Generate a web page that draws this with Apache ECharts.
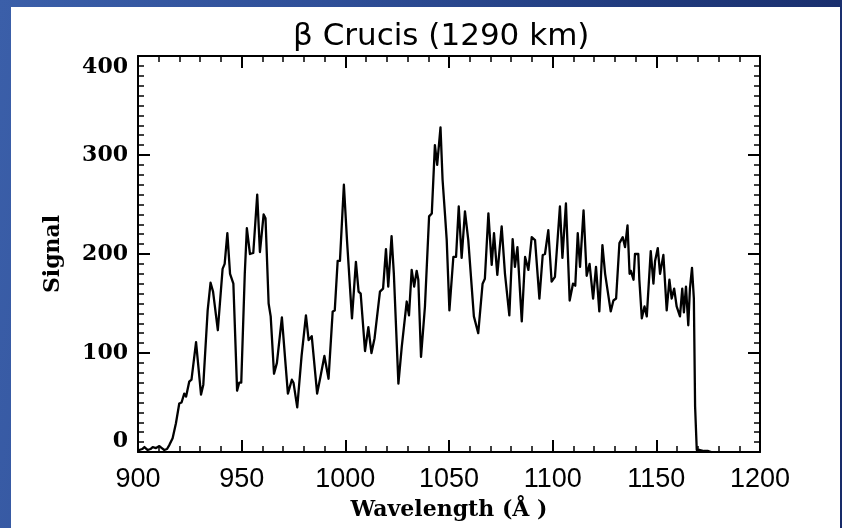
<!DOCTYPE html>
<html>
<head>
<meta charset="utf-8">
<script src="https://cdn.jsdelivr.net/npm/echarts@6/dist/echarts.min.js"></script>
<style>
  html, body { margin: 0; padding: 0; }
  #bg { position: absolute; left: 0; top: 0; width: 842px; height: 528px;
        background: linear-gradient(100deg, #3b5fa9 0%, #2f4f98 35%, #203a7c 70%, #172a68 100%); }
  #panel { position: absolute; left: 11px; top: 7px; width: 829px; height: 521px; background: #ffffff; }
  #chart { position: absolute; left: 0; top: 0; width: 842px; height: 528px; }
</style>
</head>
<body>
<div id="bg"></div>
<div id="panel"></div>
<div id="chart"></div>
<script>
// ---- data ----
var titleText = 'β Crucis (1290 km)';
var xAxisName = 'Wavelength (Å )';
var yAxisName = 'Signal';

var wavelength = [
  900.6, 902, 903.1, 904.7, 906, 907.1, 908.7, 910.3, 911.5, 912.7, 914, 915.1, 916.7, 918.3, 919.9,
  921, 922.3, 923.2, 924.7, 925.8, 928.0, 930.4, 931.5, 933.6, 935.0, 936.2, 938.5, 940.8, 941.8,
  943.1, 944.4, 945.2, 946.0, 947.8, 948.8, 949.8, 951.5, 952.5, 954.0, 955.6, 957.5, 958.8, 960.6,
  961.5, 963.0, 964.0, 965.6, 967.0, 967.8, 969.4, 971.0, 972.3, 974.2, 975.0, 976.8, 978.9, 981.0,
  982.3, 983.8, 986.4, 988.0, 989.9, 991.9, 993.9, 994.9, 996.3, 997.4, 999.3, 1000.8, 1003.2,
  1005.1, 1006.4, 1007.4, 1009.5, 1011.1, 1012.6, 1014.1, 1015.0, 1016.7, 1018.2, 1019.6, 1020.7,
  1022.3, 1023.4, 1025.6, 1027.2, 1029.6, 1030.7, 1032.0, 1033.2, 1034.4, 1035.2, 1036.5, 1038.4,
  1040.4, 1041.7, 1043.2, 1044.3, 1045.9, 1046.9, 1048.1, 1048.9, 1050.2, 1052.1, 1053.4, 1054.7,
  1056.1, 1057.7, 1059.3, 1060.1, 1062.0, 1064.1, 1066.2, 1067.3, 1069.0, 1070.6, 1071.7, 1073.3,
  1075.4, 1077.0, 1079.1, 1080.7, 1081.8, 1083.0, 1085.1, 1086.7, 1088.3, 1089.9, 1091.5, 1093.6,
  1095.2, 1096.3, 1097.9, 1099.5, 1101.1, 1103.5, 1104.7, 1106.4, 1108.2, 1109.8, 1110.9, 1112.1,
  1113.2, 1114.9, 1116.4, 1117.8, 1119.5, 1120.9, 1122.5, 1124.0, 1125.3, 1126.1, 1128.0, 1129.3,
  1130.6, 1132.2, 1133.8, 1134.9, 1136.1, 1137.1, 1137.7, 1139.0, 1139.7, 1141.3, 1141.8, 1143.0,
  1144.3, 1145.4, 1147.3, 1148.6, 1149.4, 1150.7, 1151.8, 1153.4, 1155.0, 1156.3, 1157.4, 1158.6,
  1159.8, 1160.6, 1161.4, 1162.5, 1163.3, 1164.3, 1165.4, 1166.2, 1167.2, 1168.1, 1168.7, 1169.5,
  1171, 1173, 1175, 1176.5
];
var signal = [
  2, 3, 5, 2, 3, 5, 4, 6, 4, 2, 3, 7, 14, 29, 49,
  50, 59, 56, 71, 73, 111, 58, 68, 143, 171, 162, 123, 185, 190,
  221, 180, 182, 170, 62, 70, 70, 180, 226, 200, 201, 260, 202, 240,
  236, 150, 137, 79, 90, 91, 136, 93, 59, 73, 70, 45, 97, 138,
  113, 117, 59, 76, 97, 74, 142, 143, 193, 193, 270, 214, 135,
  192, 162, 160, 102, 126, 100, 115, 116, 162, 165, 205, 167,
  218, 180, 69, 106, 152, 138, 184, 167, 183, 174, 96, 147,
  238, 241, 310, 290, 328, 275, 239, 214, 143, 197, 197, 248,
  196, 243, 214, 214, 137, 120, 170, 175, 241, 189, 221, 179,
  228, 180, 138, 215, 187, 207, 132, 197, 184, 217, 214, 155,
  199, 200, 224, 172, 177, 248, 196, 251, 153, 170, 168, 221,
  187, 244, 178, 190, 155, 187, 142, 209, 180, 180, 142, 153,
  155, 211, 217, 207, 229, 180, 183, 174, 200, 200, 174, 135,
  147, 137, 203, 170, 193, 206, 180, 199, 143, 174, 155, 165,
  147, 147, 137, 165, 141, 167, 128, 165, 186, 155, 46, 2,
  2, 1, 1, 0
];
var xRange = [900, 1200];
var xStep = 50;
var yRange = [0, 400];
var yStep = 100;

// ---- chart ----
var points = wavelength.map(function (w, i) { return [w, signal[i]]; });

function frameAxis(extra) {
  var base = {
    type: 'value',
    axisLine: { show: true, onZero: false, lineStyle: { color: '#000', width: 2 } },
    axisTick: { show: true, inside: true, length: 12, lineStyle: { color: '#000', width: 2 } },
    minorTick: { show: true, length: 6, lineStyle: { color: '#000', width: 1.5 } },
    splitLine: { show: false },
    minorSplitLine: { show: false }
  };
  for (var k in extra) base[k] = extra[k];
  return base;
}

function plain(v) { return String(v); }

var chart = echarts.init(document.getElementById('chart'), null, { renderer: 'canvas' });
chart.setOption({
  backgroundColor: 'transparent',
  animation: false,
  title: {
    text: titleText,
    left: 288,
    top: 16,
    textStyle: { fontFamily: 'DejaVu Sans', fontSize: 31, fontWeight: 'normal', color: '#000' }
  },
  grid: { left: 138, top: 56, right: 82, bottom: 76, containLabel: false },
  xAxis: [
    frameAxis({
      position: 'bottom', min: xRange[0], max: xRange[1], interval: xStep,
      minorTick: { show: true, splitNumber: 5, length: 6, lineStyle: { color: '#000', width: 1.5 } },
      axisLabel: { show: true, margin: 14, color: '#000', fontFamily: 'Liberation Sans', fontSize: 27, formatter: plain },
      name: xAxisName, nameLocation: 'middle', nameGap: 47,
      nameTextStyle: { fontFamily: 'DejaVu Serif', fontWeight: 'bold', fontSize: 22, color: '#000' }
    }),
    frameAxis({
      position: 'top', min: xRange[0], max: xRange[1], interval: xStep,
      minorTick: { show: true, splitNumber: 5, length: 6, lineStyle: { color: '#000', width: 1.5 } },
      axisLabel: { show: false }
    })
  ],
  yAxis: [
    frameAxis({
      position: 'left', min: yRange[0], max: yRange[1], interval: yStep,
      minorTick: { show: true, splitNumber: 10, length: 6, lineStyle: { color: '#000', width: 1.5 } },
      axisLabel: { show: true, margin: 10, color: '#000', fontFamily: 'DejaVu Serif', fontWeight: 'bold', fontSize: 22,
                   formatter: plain, verticalAlignMinLabel: 'bottom', verticalAlignMaxLabel: 'top' },
      name: yAxisName, nameLocation: 'middle', nameGap: 74, nameRotate: 90,
      nameTextStyle: { fontFamily: 'DejaVu Serif', fontWeight: 'bold', fontSize: 22, color: '#000' }
    }),
    frameAxis({
      position: 'right', min: yRange[0], max: yRange[1], interval: yStep,
      minorTick: { show: true, splitNumber: 10, length: 6, lineStyle: { color: '#000', width: 1.5 } },
      axisLabel: { show: false }
    })
  ],
  series: [{
    type: 'line',
    xAxisIndex: 0,
    yAxisIndex: 0,
    data: points,
    showSymbol: false,
    smooth: false,
    lineStyle: { color: '#000', width: 2.3, join: 'round', cap: 'round' },
    clip: true
  }]
});
</script>
</body>
</html>
